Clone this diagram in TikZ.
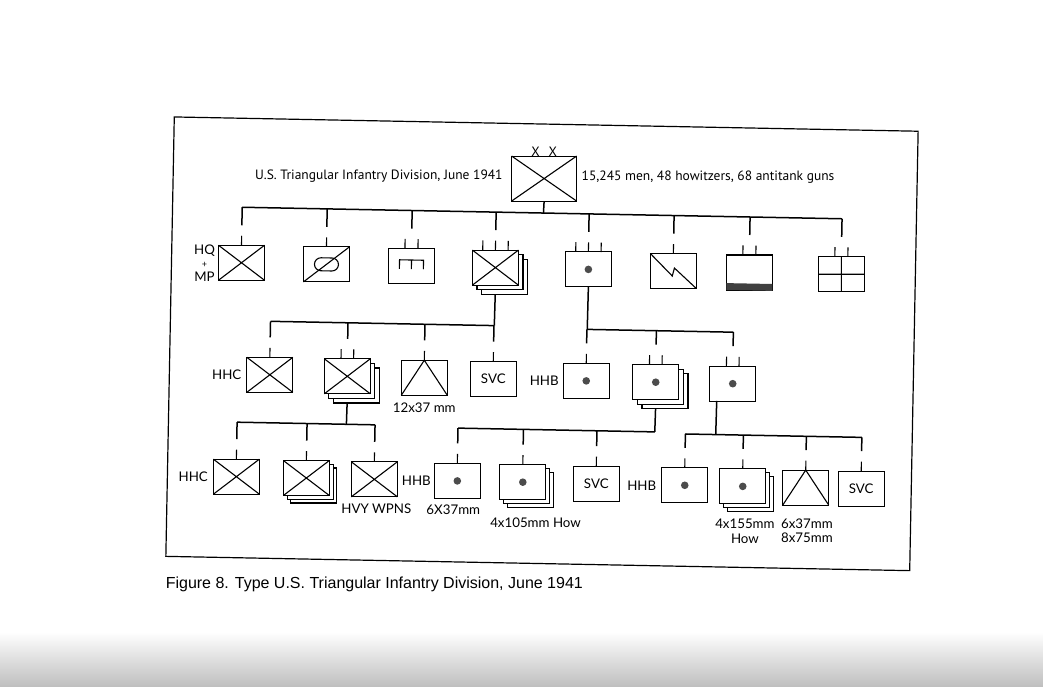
\documentclass[tikz,border=0pt]{standalone}
\usepackage{fontspec}
\setmainfont{PT Sans}
\newfontfamily\unitfont{Lato}
\newfontfamily\capfont{Liberation Sans}
\usetikzlibrary{positioning,shadows}

\begin{document}
\begin{tikzpicture}[x=1pt,y=-1pt,line width=1.1pt,
  unit/.style={draw,fill=white,minimum width=46pt,minimum height=35pt,inner sep=0pt,outer sep=0pt,
    font=\unitfont\fontsize{13.3}{13.5}\selectfont},
  stack/.style={copy shadow={shadow xshift=9.2pt,shadow yshift=-9.2pt},
    copy shadow={shadow xshift=4.6pt,shadow yshift=-4.6pt}},
  stacksm/.style={copy shadow={shadow xshift=7.4pt,shadow yshift=-7.4pt},
    copy shadow={shadow xshift=3.7pt,shadow yshift=-3.7pt}},
  lbl/.style={inner sep=0pt,align=center,font=\unitfont\fontsize{13.3}{13.5}\selectfont},
  head/.style={inner sep=0pt,font=\fontsize{13.5}{16}\selectfont},
  bar/.style={line width=1.5pt},
  armdot/.style={fill=black!70}]
  \fill[white] (0,0) rectangle (1043,686);
  \shade[top color=white,bottom color=black!25] (0,632) rectangle (1043,686);
  \useasboundingbox (0,0) rectangle (1043,686);
  \begin{scope}[rotate around={-1.1:(540,343)}]
  \draw[line width=1.2pt] (170,124) rectangle (914,563.5);

  \node[unit,minimum width=65pt,minimum height=45pt] (div) at (541,178.5) {};
  \draw (div.north west) -- (div.south east) (div.south west) -- (div.north east);
  \node[head,anchor=base] (xx) at (div.north) {X\hspace{9pt}X};
  \node[head,anchor=base east] (title) at (500,180) {U.S. Triangular Infantry Division, June 1941};
  \node[head,anchor=base west] (stats) at (578,179.5) {15,245 men, 48 howitzers, 68 antitank guns};

  \node[unit] (hq) at (240,268.5) {};
  \node[unit] (cav) at (325,268.5) {};
  \node[unit] (engr) at (410,268.5) {};
  \node[unit,stack] (inf) at (494,268.5) {};
  \node[unit] (divarty) at (587,268.5) {};
  \node[unit] (sig) at (672,268.5) {};
  \node[unit] (qm) at (748,268.5) {};
  \node[unit] (med) at (840,268.5) {};
  \node[lbl,left=3pt of hq] (hql) {HQ\\{\fontsize{9}{9}\selectfont +}\\MP};

  \draw (hq.north west) -- (hq.south east) (hq.south west) -- (hq.north east);
  \draw (cav.south west) -- (cav.north east);
  \draw[rounded corners=6.5pt] ([shift={(-12,-6.5)}]cav.center) rectangle ([shift={(12,6.5)}]cav.center);
  \draw ([shift={(-12,3)}]engr.center) -- ++(0,-9) -- ++(24,0) -- ++(0,9)
    ([shift={(0,-6)}]engr.center) -- ++(0,9);
  \draw (inf.north west) -- (inf.south east) (inf.south west) -- (inf.north east);
  \fill[armdot] (divarty.center) circle (3.8);
  \draw (sig.north west) -- ([shift={(-1,5)}]sig.center) -- ([shift={(1,-3)}]sig.center) -- (sig.south east);
  \fill[black!75] (qm.south west) rectangle ([yshift=6pt]qm.south east);
  \draw (med.north) -- (med.south) (med.west) -- (med.east);

  \draw (hq.north) -- ++(0,-9.5) (cav.north) -- ++(0,-9.5) (sig.north) -- ++(0,-9.5)
    ([xshift=-6.5pt]engr.north) -- ++(0,-9.5) ([xshift=6.5pt]engr.north) -- ++(0,-9.5)
    ([xshift=-12.7pt]inf.north) -- ++(0,-9.5) (inf.north) -- ++(0,-9.5) ([xshift=12.7pt]inf.north) -- ++(0,-9.5)
    ([xshift=-12.7pt]divarty.north) -- ++(0,-9.5) (divarty.north) -- ++(0,-9.5) ([xshift=12.7pt]divarty.north) -- ++(0,-9.5)
    ([xshift=-6.5pt]qm.north) -- ++(0,-9.5) ([xshift=6.5pt]qm.north) -- ++(0,-9.5)
    ([xshift=-6.5pt]med.north) -- ++(0,-9.5) ([xshift=6.5pt]med.north) -- ++(0,-9.5);

  \coordinate (b1) at (541,213);
  \draw[bar] (div.south) -- (b1);
  \draw[bar] (hq.north |- b1) -- (med.north |- b1);
  \draw[bar] (hq.north |- b1) -- ([yshift=20pt]hq.north)
    (cav.north |- b1) -- ([yshift=20pt]cav.north)
    (engr.north |- b1) -- ([yshift=20pt]engr.north)
    (inf.north |- b1) -- ([yshift=20pt]inf.north)
    (divarty.north |- b1) -- ([yshift=20pt]divarty.north)
    (sig.north |- b1) -- ([yshift=20pt]sig.north)
    (qm.north |- b1) -- ([yshift=20pt]qm.north)
    (med.north |- b1) -- ([yshift=20pt]med.north);

  \node[unit] (hhc) at (270.5,380) {};
  \node[unit,stack] (infbn) at (348,380) {};
  \node[unit] (atco) at (425,380) {};
  \node[unit] (svc) at (494,380) {SVC};
  \node[unit] (hhb) at (587,380) {};
  \node[unit,stack] (fa105) at (656.5,380) {};
  \node[unit] (fa155) at (733.5,380) {};
  \node[lbl,left=5pt of hhc] (hhcl) {HHC};
  \node[lbl,below=7pt of atco] (atcol) {12x37 mm};
  \node[lbl,left=4pt of hhb] (hhbl) {HHB};

  \draw (hhc.north west) -- (hhc.south east) (hhc.south west) -- (hhc.north east);
  \draw (infbn.north west) -- (infbn.south east) (infbn.south west) -- (infbn.north east);
  \draw (atco.south west) -- (atco.north) -- (atco.south east);
  \fill[armdot] (hhb.center) circle (3.8) (fa105.center) circle (3.8) (fa155.center) circle (3.8);

  \draw (hhc.north) -- ++(0,-9.5) (atco.north) -- ++(0,-9.5) (svc.north) -- ++(0,-9.5) (hhb.north) -- ++(0,-9.5)
    ([xshift=-6.3pt]infbn.north) -- ++(0,-9.5) ([xshift=6.3pt]infbn.north) -- ++(0,-9.5)
    ([xshift=-6.3pt]fa105.north) -- ++(0,-9.5) ([xshift=6.3pt]fa105.north) -- ++(0,-9.5)
    ([xshift=-6.3pt]fa155.north) -- ++(0,-9.5) ([xshift=6.3pt]fa155.north) -- ++(0,-9.5);

  \coordinate (b2l) at (494,326.5);
  \coordinate (b2r) at (587,328.5);
  \draw[bar] ([yshift=-9.2pt]inf.south) -- (b2l);
  \draw[bar] (hhc.north |- b2l) -- (b2l);
  \draw[bar] (hhc.north |- b2l) -- ([yshift=20pt]hhc.north)
    (infbn.north |- b2l) -- ([yshift=20pt]infbn.north)
    (atco.north |- b2l) -- ([yshift=20pt]atco.north)
    (svc.north |- b2l) -- ([yshift=20pt]svc.north);
  \draw[bar] (divarty.south) -- (b2r);
  \draw[bar] (b2r) -- (fa155.north |- b2r);
  \draw[bar] (hhb.north |- b2r) -- ([yshift=20pt]hhb.north)
    (fa105.north |- b2r) -- ([yshift=20pt]fa105.north)
    (fa155.north |- b2r) -- ([yshift=20pt]fa155.north);

  \node[unit] (hhc1) at (239,482.5) {};
  \node[unit,stacksm] (rifle) at (309,482.5) {};
  \node[unit] (hvy) at (377,482.5) {};
  \node[unit] (hhb1) at (460,482.5) {};
  \node[unit,stacksm] (btry1) at (525.5,482.5) {};
  \node[unit] (svc1) at (599,482.5) {SVC};
  \node[unit] (hhb2) at (687.5,482.5) {};
  \node[unit,stacksm] (btry2) at (745.5,482.5) {};
  \node[unit] (atbtry) at (808.5,482.5) {};
  \node[unit] (svc2) at (864,482.5) {SVC};
  \node[lbl,left=5pt of hhc1] (hhc1l) {HHC};
  \node[lbl,below=6pt of hvy,xshift=2pt] (hvyl) {HVY WPNS};
  \node[lbl,left=3pt of hhb1] (hhb1l) {HHB};
  \node[lbl,below=6pt of hhb1,xshift=-4pt] (hhb1g) {6X37mm};
  \node[lbl] (btry1l) at (539,523) {4x105mm How};
  \node[lbl,left=5pt of hhb2] (hhb2l) {HHB};
  \node[lbl] (btry2l) at (748.5,527) {4x155mm\\[1.5pt]How};
  \node[lbl] (atbtryl) at (810.5,525.5) {6x37mm\\[1pt]8x75mm};

  \draw (hhc1.north west) -- (hhc1.south east) (hhc1.south west) -- (hhc1.north east);
  \draw (rifle.north west) -- (rifle.south east) (rifle.south west) -- (rifle.north east);
  \draw (hvy.north west) -- (hvy.south east) (hvy.south west) -- (hvy.north east);
  \draw (atbtry.south west) -- (atbtry.north) -- (atbtry.south east);
  \fill[armdot] (hhb1.center) circle (3.8) (btry1.center) circle (3.8)
    (hhb2.center) circle (3.8) (btry2.center) circle (3.8);

  \draw (hhc1.north) -- ++(0,-9.5) (rifle.north) -- ++(0,-9.5) (hvy.north) -- ++(0,-9.5)
    (hhb1.north) -- ++(0,-9.5) (btry1.north) -- ++(0,-9.5) (svc1.north) -- ++(0,-9.5)
    (hhb2.north) -- ++(0,-9.5) (btry2.north) -- ++(0,-9.5) (atbtry.north) -- ++(0,-9.5) (svc2.north) -- ++(0,-9.5);

  \coordinate (b3l) at (348,428);
  \coordinate (b3m) at (656.5,429.7);
  \coordinate (b3r) at (717.5,431.2);
  \draw[bar] ([yshift=-9.2pt]infbn.south) -- (b3l);
  \draw[bar] (hhc1.north |- b3l) -- (hvy.north |- b3l);
  \draw[bar] (hhc1.north |- b3l) -- ([yshift=20pt]hhc1.north)
    (rifle.north |- b3l) -- ([yshift=20pt]rifle.north)
    (hvy.north |- b3l) -- ([yshift=20pt]hvy.north);
  \draw[bar] ([yshift=-9.2pt]fa105.south) -- (b3m);
  \draw[bar] (hhb1.north |- b3m) -- (b3m);
  \draw[bar] (hhb1.north |- b3m) -- ([yshift=20pt]hhb1.north)
    (btry1.north |- b3m) -- ([yshift=20pt]btry1.north)
    (svc1.north |- b3m) -- ([yshift=20pt]svc1.north);
  \draw[bar] ([xshift=-16pt]fa155.south) -- (b3r);
  \draw[bar] (hhb2.north |- b3r) -- (svc2.north |- b3r);
  \draw[bar] (hhb2.north |- b3r) -- ([yshift=20pt]hhb2.north)
    (btry2.north |- b3r) -- ([yshift=20pt]btry2.north)
    (atbtry.north |- b3r) -- ([yshift=20pt]atbtry.north)
    (svc2.north |- b3r) -- ([yshift=20pt]svc2.north);

  \node[inner sep=0pt,anchor=base west,font=\capfont\fontsize{16}{19}\selectfont] (caption) at (170,595.5)
    {Figure 8. Type U.S. Triangular Infantry Division, June 1941};
  \end{scope}
\end{tikzpicture}
\end{document}
